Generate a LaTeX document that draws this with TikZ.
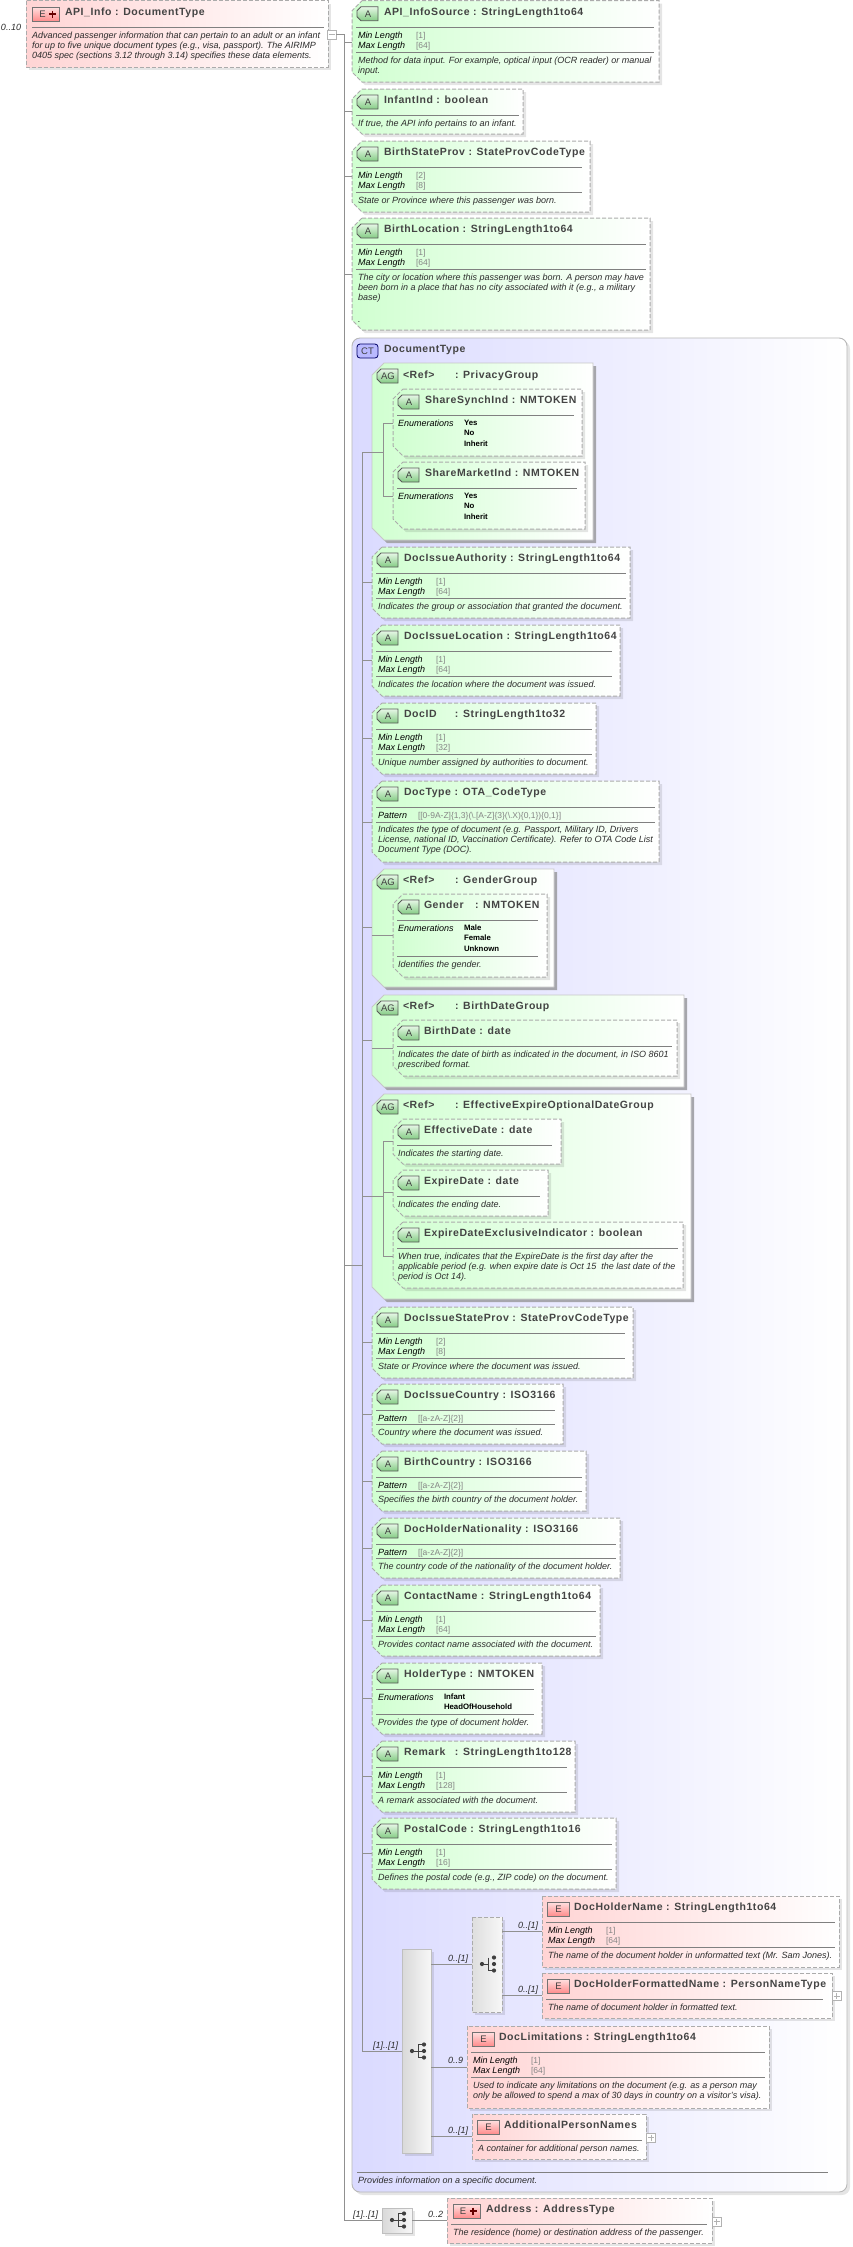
\documentclass[tikz,border=0pt]{standalone}
\usepackage{fontspec}
\setmainfont{Liberation Sans}
\newfontfamily\ttlfont{Liberation Sans}[LetterSpace=5.5]
\usetikzlibrary{calc}
\definecolor{gL}{HTML}{D0FFD0}
\definecolor{pL}{HTML}{FFD4D4}
\definecolor{bL}{HTML}{DADAFF}
\definecolor{dashc}{HTML}{ABABAB}
\definecolor{connc}{HTML}{909090}
\definecolor{ttlc}{HTML}{444444}
\definecolor{dscc}{HTML}{2C2C2C}
\definecolor{valc}{HTML}{858585}
\definecolor{bgA}{HTML}{E6F7E6}
\definecolor{bgB}{HTML}{84CC84}
\newcounter{tn}
\tikzset{
 conn/.style={draw=connc,line width=0.8pt},
 txtbase/.style={anchor=base west,inner sep=0pt,outer sep=0pt},
 ttl/.style={txtbase,font=\ttlfont\bfseries\fontsize{10.5}{12}\selectfont,text=ttlc,yshift=-3.8pt},
 dsc/.style={txtbase,font=\itshape\fontsize{9}{10}\selectfont,text=dscc,yshift=-3.2pt},
 lbl/.style={txtbase,font=\itshape\fontsize{9}{10}\selectfont,text=black,yshift=-3.2pt},
 val/.style={txtbase,font=\fontsize{8.5}{10}\selectfont,text=valc,yshift=-3.2pt},
 enu/.style={txtbase,font=\bfseries\fontsize{7.8}{10}\selectfont,text=black,yshift=-3pt},
 occ/.style={txtbase,font=\itshape\fontsize{9}{10}\selectfont,text=dscc,yshift=-3.2pt},
 dashbox/.style={draw=dashc,line width=1pt,dash pattern=on 4pt off 2pt},
 shad/.style={fill=black,opacity=0.10},
 divl/.style={draw=black!50,line width=0.7pt},
 badgetxt/.style={inner sep=0pt,font=\fontsize{9.5}{10}\selectfont,text=black!75},
 expbox/.style={draw=black!30,fill=white,line width=0.7pt,inner sep=0pt,minimum width=9pt,minimum height=9pt},
 seqbox/.style={left color=black!15,right color=black!3,draw=black!25,line width=0.9pt},
 iconl/.style={draw=black!75,line width=0.9pt},
 icond/.style={fill=black!75},
}
\newcommand\Tx[4]{\stepcounter{tn}\node[#1] (tx\arabic{tn}) at (#2,#3) {#4};}
\newcommand\Dv[3]{\draw[divl] (#1,#3) -- (#2,#3);}
% badges
\newcommand\BadgeA[3]{%
 \draw[top color=bgA,bottom color=bgB,draw=black!65,line width=0.8pt]
  (#1+4,#2) -- (#1+21,#2) -- (#1+21,#2+14) -- (#1+4,#2+14) -- (#1,#2+10) -- (#1,#2+4) -- cycle;
 \stepcounter{tn}\node[badgetxt] (tx\arabic{tn}) at (#1+11,#2+7.5) {#3};}
\newcommand\BadgeE[2]{%
 \draw[top color=red!12,bottom color=red!45,draw=black!55,line width=0.8pt] (#1,#2) rectangle (#1+21.5,#2+14);
 \stepcounter{tn}\node[badgetxt] (tx\arabic{tn}) at (#1+11,#2+7.5) {E};}
\newcommand\BadgeEP[2]{%
 \draw[top color=red!12,bottom color=red!45,draw=black!55,line width=0.8pt] (#1,#2) rectangle (#1+27,#2+14);
 \stepcounter{tn}\node[badgetxt] (tx\arabic{tn}) at (#1+10,#2+7.5) {E};
 \draw[draw=black!60!red,line width=1.8pt] (#1+16.5,#2+7) -- (#1+23.5,#2+7) (#1+20,#2+3.5) -- (#1+20,#2+10.5);}
% boxes
\newcommand\Att[6]{%
 \fill[shad,xshift=3pt,yshift=-3pt] (#2+10,#3) -- (#4,#3) -- (#4,#5) -- (#2+10,#5) -- (#2,#5-10) -- (#2,#3+10) -- cycle;
 \draw[dashbox,left color=gL,right color=white] (#2+10,#3) -- (#4,#3) -- (#4,#5) -- (#2+10,#5) -- (#2,#5-10) -- (#2,#3+10) -- cycle;
 \node[inner sep=0pt,minimum width={(#4-(#2))*1pt},minimum height={(#5-(#3))*1pt}] (#1) at ({(#2+#4)/2},{(#3+#5)/2}) {};
 \coordinate (#1-c) at (#2,#6);
 \BadgeA{#2+5}{#3+6}{A}}
\newcommand\Grp[6]{%
 \fill[fill=black!30!blue!10!black!35,xshift=3pt,yshift=-3pt] (#2+12,#3) -- (#4,#3) -- (#4,#5) -- (#2+12,#5) -- (#2,#5-12) -- (#2,#3+12) -- cycle;
 \draw[draw=black!22,line width=0.8pt,left color=gL,right color=white] (#2+12,#3) -- (#4,#3) -- (#4,#5) -- (#2+12,#5) -- (#2,#5-12) -- (#2,#3+12) -- cycle;
 \node[inner sep=0pt,minimum width={(#4-(#2))*1pt},minimum height={(#5-(#3))*1pt}] (#1) at ({(#2+#4)/2},{(#3+#5)/2}) {};
 \coordinate (#1-c) at (#2,#6);
 \BadgeA{#2+5}{#3+6}{AG}}
\newcommand\Elm[6]{%
 \fill[shad,xshift=3pt,yshift=-3pt] (#2,#3) rectangle (#4,#5);
 \draw[dashbox,left color=pL,right color=white] (#2,#3) rectangle (#4,#5);
 \node[inner sep=0pt,minimum width={(#4-(#2))*1pt},minimum height={(#5-(#3))*1pt}] (#1) at ({(#2+#4)/2},{(#3+#5)/2}) {};
 \coordinate (#1-c) at (#2,#6);}
% standard bodies
\newcommand\Len[9]{%
 \Att{#1}{#2}{#3}{#4}{#3+71}{#3+35}
 \Tx{ttl}{#2+32}{#3+11}{#6}
 \Dv{#2+4}{#5}{#3+26}
 \Tx{lbl}{#2+6}{#3+34}{Min Length}\Tx{val}{#2+64}{#3+34}{[#7]}
 \Tx{lbl}{#2+6}{#3+44}{Max Length}\Tx{val}{#2+64}{#3+44}{[#8]}
 \Dv{#2+4}{#5}{#3+51}
 \Tx{dsc}{#2+6}{#3+59}{#9}}
\newcommand\Pat[7]{%
 \Att{#1}{#2}{#3}{#4}{#3+60}{#3+30}
 \Tx{ttl}{#2+32}{#3+11}{#6}
 \Dv{#2+4}{#5}{#3+26}
 \Tx{lbl}{#2+6}{#3+34}{Pattern}\Tx{val}{#2+46}{#3+34}{[[a-zA-Z]\{2\}]}
 \Dv{#2+4}{#5}{#3+40}
 \Tx{dsc}{#2+6}{#3+48}{#7}}
\newcommand\Ic[2]{% sequence icon
 \draw[iconl] (#1-6,#2) -- (#1+6,#2) (#1,#2-6.5) -- (#1,#2+6.5) (#1,#2-6.5) -- (#1+6,#2-6.5) (#1,#2+6.5) -- (#1+6,#2+6.5);
 \fill[icond] (#1-6,#2) circle (2.1pt) (#1+6,#2) circle (2.1pt) (#1+6,#2-6.5) circle (2.1pt) (#1+6,#2+6.5) circle (2.1pt);}
\newcommand\Ich[2]{% choice icon
 \draw[iconl] (#1-6,#2) -- (#1,#2) (#1,#2-6.5) -- (#1,#2+6.5) -- (#1+6,#2+6.5);
 \fill[icond] (#1-6,#2) circle (2.1pt) (#1+6,#2) circle (2.1pt) (#1+6,#2-6.5) circle (2.1pt) (#1+6,#2+6.5) circle (2.1pt);}
\newcommand\Pl[3]{% expand box
 \node[expbox] (#1) at (#2,#3) {};
 \draw[draw=black!30,line width=0.7pt] (#2-3,#3) -- (#2+3,#3) (#2,#3-3) -- (#2,#3+3);}
\newcommand\Rf[1]{\makebox[52pt][l]{<Ref>}: #1}
\begin{document}
\begin{tikzpicture}[x=1pt,y=-1pt]
\useasboundingbox (0,0) rectangle (852,2247);
\fill[white] (0,0) rectangle (852,2247);
% outer spine coordinates
\coordinate (spO) at (344,34);
\coordinate (spOb) at (344,2220);
\coordinate (spI) at (362,452);
\coordinate (spIb) at (362,2051);
% API_Info
\Elm{api}{26}{0.7}{328}{67}{34}
\BadgeEP{32.5}{7}
\Tx{ttl}{65}{12}{API\_Info : DocumentType}
\Dv{32}{324}{27}
\Tx{dsc}{32}{35}{Advanced passenger information that can pertain to an adult or an infant}
\Tx{dsc}{32}{45}{for up to five unique document types (e.g., visa, passport). The AIRIMP}
\Tx{dsc}{32}{55}{0405 spec (sections 3.12 through 3.14) specifies these data elements.}
\Tx{occ}{1}{27}{0..10}
\node[expbox] (apiminus) at (331.5,34.5) {};
\draw[draw=black!30,line width=0.7pt] (328.5,34.5) -- (334.5,34.5);
% top attributes
\Att{src}{352}{0.7}{659}{82}{42}
\Tx{ttl}{384}{12}{API\_InfoSource : StringLength1to64}
\Dv{356}{654}{27}
\Tx{lbl}{358}{35}{Min Length}\Tx{val}{416}{35}{[1]}
\Tx{lbl}{358}{45}{Max Length}\Tx{val}{416}{45}{[64]}
\Dv{356}{654}{52}
\Tx{dsc}{358}{60}{Method for data input. For example, optical input (OCR reader) or manual}
\Tx{dsc}{358}{70}{input.}
\Att{inf}{352}{89}{523}{134}{111}
\Tx{ttl}{384}{100}{InfantInd : boolean}
\Dv{356}{519}{115}
\Tx{dsc}{358}{123}{If true, the API info pertains to an infant.}
\Len{bsp}{352}{141}{590}{582}{BirthStateProv : StateProvCodeType}{2}{8}{State or Province where this passenger was born.}
\Att{bl}{352}{218}{650}{330}{274}
\Tx{ttl}{384}{229}{BirthLocation : StringLength1to64}
\Dv{356}{646}{244}
\Tx{lbl}{358}{252}{Min Length}\Tx{val}{416}{252}{[1]}
\Tx{lbl}{358}{262}{Max Length}\Tx{val}{416}{262}{[64]}
\Dv{356}{646}{269}
\Tx{dsc}{358}{277}{The city or location where this passenger was born. A person may have}
\Tx{dsc}{358}{287}{been born in a place that has no city associated with it (e.g., a military}
\Tx{dsc}{358}{297}{base)}
\Tx{dsc}{358}{319}{.}
% CT panel
\fill[shad,rounded corners=8pt,xshift=3pt,yshift=-3pt] (352,338) rectangle (847,2192);
\draw[draw=black!28,line width=0.9pt,left color=bL,right color=white,rounded corners=8pt] (352,338) rectangle (847,2192);
\node[inner sep=0pt,minimum width=495pt,minimum height=1854pt] (panel) at (599.5,1265) {};
\coordinate (panel-c) at (352,1265);
\stepcounter{tn}\node[badgetxt,draw=black!60!blue,fill=bL!85!blue,rounded corners=3pt,line width=0.8pt,minimum width=21pt,minimum height=14pt] (ctb) at (367.5,351) {CT};
\Tx{ttl}{384}{349}{DocumentType}
% PrivacyGroup
\Grp{priv}{372}{363}{593}{540}{452}
\Tx{ttl}{403}{375}{\Rf{PrivacyGroup}}
\Att{ssi}{393}{389}{582}{456}{423}
\Tx{ttl}{425}{400}{ShareSynchInd : NMTOKEN}
\Dv{397}{574}{415}
\Tx{lbl}{398}{423}{Enumerations}
\Tx{enu}{464}{422}{Yes}\Tx{enu}{464}{432}{No}\Tx{enu}{464}{443}{Inherit}
\Att{smi}{393}{462}{585}{529}{496}
\Tx{ttl}{425}{473}{ShareMarketInd : NMTOKEN}
\Dv{397}{577}{488}
\Tx{lbl}{398}{496}{Enumerations}
\Tx{enu}{464}{495}{Yes}\Tx{enu}{464}{505}{No}\Tx{enu}{464}{516}{Inherit}
% doc attributes
\Len{dia}{372}{547}{630}{626}{DocIssueAuthority : StringLength1to64}{1}{64}{Indicates the group or association that granted the document.}
\Len{dil}{372}{625}{620}{612}{DocIssueLocation : StringLength1to64}{1}{64}{Indicates the location where the document was issued.}
\Len{did}{372}{703}{596}{592}{\makebox[51pt][l]{DocID}: StringLength1to32}{1}{32}{Unique number assigned by authorities to document.}
\Att{dty}{372}{781}{659}{862}{822}
\Tx{ttl}{404}{792}{DocType : OTA\_CodeType}
\Dv{376}{655}{807}
\Tx{lbl}{378}{815}{Pattern}\Tx{val}{418}{815}{[[0-9A-Z]\{1,3\}(\textbackslash.[A-Z]\{3\}(\textbackslash.X)\{0,1\})\{0,1\}]}
\Dv{376}{655}{822}
\Tx{dsc}{378}{829}{Indicates the type of document (e.g. Passport, Military ID, Drivers}
\Tx{dsc}{378}{839}{License, national ID, Vaccination Certificate). Refer to OTA Code List}
\Tx{dsc}{378}{849}{Document Type (DOC).}
% GenderGroup
\Grp{gg}{372}{869}{554}{987}{927}
\Tx{ttl}{403}{880}{\Rf{GenderGroup}}
\Att{gen}{393}{894}{547}{977}{935}
\Tx{ttl}{424}{905}{\makebox[51pt][l]{Gender}: NMTOKEN}
\Dv{397}{538}{920}
\Tx{lbl}{398}{928}{Enumerations}
\Tx{enu}{464}{927}{Male}\Tx{enu}{464}{937}{Female}\Tx{enu}{464}{948}{Unknown}
\Dv{397}{538}{956}
\Tx{dsc}{398}{964}{Identifies the gender.}
% BirthDateGroup
\Grp{bdg}{372}{995}{684}{1087}{1040}
\Tx{ttl}{403}{1006}{\Rf{BirthDateGroup}}
\Att{bd}{393}{1020}{677}{1076}{1048}
\Tx{ttl}{424}{1031}{BirthDate : date}
\Dv{397}{672}{1046}
\Tx{dsc}{398}{1054}{Indicates the date of birth as indicated in the document, in ISO 8601}
\Tx{dsc}{398}{1064}{prescribed format.}
% EffectiveExpire
\Grp{eeg}{372}{1094}{691}{1299}{1196}
\Tx{ttl}{403}{1105}{\Rf{EffectiveExpireOptionalDateGroup}}
\Att{eff}{393}{1119}{561}{1164}{1141}
\Tx{ttl}{424}{1130}{EffectiveDate : date}
\Dv{397}{552}{1145}
\Tx{dsc}{398}{1153}{Indicates the starting date.}
\Att{exp}{393}{1170}{548}{1216}{1192}
\Tx{ttl}{424}{1181}{ExpireDate : date}
\Dv{397}{540}{1196}
\Tx{dsc}{398}{1204}{Indicates the ending date.}
\Att{exi}{393}{1222}{683}{1288}{1256}
\Tx{ttl}{424}{1233}{ExpireDateExclusiveIndicator : boolean}
\Dv{397}{678}{1248}
\Tx{dsc}{398}{1256}{When true, indicates that the ExpireDate is the first day after the}
\Tx{dsc}{398}{1266}{applicable period (e.g. when expire date is Oct 15\ \ the last date of the}
\Tx{dsc}{398}{1276}{period is Oct 14).}
% rest
\Len{dsp}{372}{1307}{633}{625}{DocIssueStateProv : StateProvCodeType}{2}{8}{State or Province where the document was issued.}
\Pat{dic}{372}{1384}{563}{555}{DocIssueCountry : ISO3166}{Country where the document was issued.}
\Pat{bc}{372}{1451}{586}{582}{BirthCountry : ISO3166}{Specifies the birth country of the document holder.}
\Pat{dhn}{372}{1518}{620}{616}{DocHolderNationality : ISO3166}{The country code of the nationality of the document holder.}
\Len{cn}{372}{1585}{600}{596}{ContactName : StringLength1to64}{1}{64}{Provides contact name associated with the document.}
\Att{ht}{372}{1663}{542}{1734}{1698}
\Tx{ttl}{404}{1674}{HolderType : NMTOKEN}
\Dv{376}{534}{1689}
\Tx{lbl}{378}{1697}{Enumerations}
\Tx{enu}{444}{1696}{Infant}\Tx{enu}{444}{1706}{HeadOfHousehold}
\Dv{376}{534}{1714}
\Tx{dsc}{378}{1722}{Provides the type of document holder.}
\Len{rm}{372}{1741}{575}{567}{\makebox[51pt][l]{Remark}: StringLength1to128}{1}{128}{A remark associated with the document.}
\Len{pc}{372}{1818}{616}{612}{PostalCode : StringLength1to16}{1}{16}{Defines the postal code (e.g., ZIP code) on the document.}
% sequence + choice
\fill[shad,xshift=3pt,yshift=-3pt] (402,1949) rectangle (431,2153);
\draw[seqbox] (402,1949) rectangle (431,2153);
\node[inner sep=0pt,minimum width=29pt,minimum height=204pt] (seq) at (416.5,2051) {};
\Ic{418}{2051}
\fill[shad,xshift=3pt,yshift=-3pt] (472,1917) rectangle (502,2012);
\draw[dashbox,left color=black!13,right color=black!3] (472,1917) rectangle (502,2012);
\node[inner sep=0pt,minimum width=30pt,minimum height=95pt] (cho) at (487,1964.5) {};
\Ich{488}{1964}
% elements
\Elm{dhname}{542}{1896}{839}{1967}{1931}
\BadgeE{547.5}{1902}
\Tx{ttl}{574}{1907}{DocHolderName : StringLength1to64}
\Dv{546}{835}{1922}
\Tx{lbl}{548}{1930}{Min Length}\Tx{val}{606}{1930}{[1]}
\Tx{lbl}{548}{1940}{Max Length}\Tx{val}{606}{1940}{[64]}
\Dv{546}{835}{1947}
\Tx{dsc}{548}{1955}{The name of the document holder in unformatted text (Mr. Sam Jones).}
\Elm{dhf}{542}{1973}{832}{2018}{1995}
\BadgeE{547.5}{1979}
\Tx{ttl}{574}{1984}{DocHolderFormattedName : PersonNameType}
\Dv{546}{823}{1999}
\Tx{dsc}{548}{2007}{The name of document holder in formatted text.}
\Pl{dhfp}{836.5}{1996}
\Elm{dlim}{467}{2026}{769}{2108}{2067}
\BadgeE{472.5}{2032}
\Tx{ttl}{499}{2037}{DocLimitations : StringLength1to64}
\Dv{471}{765}{2052}
\Tx{lbl}{473}{2060}{Min Length}\Tx{val}{531}{2060}{[1]}
\Tx{lbl}{473}{2070}{Max Length}\Tx{val}{531}{2070}{[64]}
\Dv{471}{765}{2077}
\Tx{dsc}{473}{2085}{Used to indicate any limitations on the document (e.g. as a person may}
\Tx{dsc}{473}{2095}{only be allowed to spend a max of 30 days in country on a visitor's visa).}
\Elm{apn}{472}{2114}{646}{2159}{2136}
\BadgeE{477.5}{2120}
\Tx{ttl}{504}{2125}{AdditionalPersonNames}
\Dv{476}{642}{2140}
\Tx{dsc}{478}{2148}{A container for additional person names.}
\Pl{apnp}{651}{2137.5}
\Dv{357}{828}{2172}
\Tx{dsc}{358}{2180}{Provides information on a specific document.}
% address
\fill[shad,xshift=3pt,yshift=-3pt] (382,2208) rectangle (412,2233);
\draw[seqbox] (382,2208) rectangle (412,2233);
\node[inner sep=0pt,minimum width=30pt,minimum height=25pt] (seqa) at (397,2220.5) {};
\Ic{398}{2220}
\Elm{addr}{447}{2198}{712}{2243}{2220}
\BadgeEP{453}{2204}
\Tx{ttl}{486}{2209}{Address : AddressType}
\Dv{451}{707}{2224}
\Tx{dsc}{453}{2232}{The residence (home) or destination address of the passenger.}
\Pl{addrp}{716.5}{2221.5}
% connectors
\draw[conn] (apiminus.east) -- (apiminus.east -| spO) -- (spOb) -- (seqa.west |- spOb);
\foreach \b in {src,inf,bsp,bl,panel} \draw[conn] (\b-c -| spO) -- (\b-c);
\draw[conn] (spI) -- (spIb) -- (seq.west |- spIb);
\draw[conn] (panel-c -| spI) -- (panel-c);
\foreach \b in {priv,dia,dil,did,dty,gg,bdg,eeg,dsp,dic,bc,dhn,cn,ht,rm,pc} \draw[conn] (\b-c -| spI) -- (\b-c);
% sub spines in groups
\coordinate (subP) at (383,452);
\draw[conn] (priv-c) -- (subP);
\draw[conn] (ssi-c) -- (ssi-c -| subP) -- (smi-c -| subP) -- (smi-c);
\draw[conn] (gg.west |- gen-c) -- (gen-c);
\draw[conn] (bdg.west |- bd-c) -- (bd-c);
\coordinate (subE) at (383,1196);
\draw[conn] (eeg-c) -- (subE);
\draw[conn] (eff-c) -- (eff-c -| subE) -- (exi-c -| subE) -- (exi-c);
\draw[conn] (exp-c) -- (exp-c -| subE);
% sequence branches
\coordinate (c1) at (431,1964);
\draw[conn] (c1) -- (cho.west |- c1);
\draw[conn] (seq.east |- dlim-c) -- (dlim-c);
\draw[conn] (seq.east |- apn-c) -- (apn-c);
\draw[conn] (cho.east |- dhname-c) -- (dhname-c);
\draw[conn] (cho.east |- dhf-c) -- (dhf-c);
\draw[conn] (seqa.east |- addr-c) -- (addr-c);
% occurrence labels
\Tx{occ}{373}{2045}{[1]..[1]}
\Tx{occ}{448}{1958}{0..[1]}
\Tx{occ}{448}{2060}{0..9}
\Tx{occ}{448}{2130}{0..[1]}
\Tx{occ}{518}{1925}{0..[1]}
\Tx{occ}{518}{1989}{0..[1]}
\Tx{occ}{353}{2214}{[1]..[1]}
\Tx{occ}{428}{2214}{0..2}
\end{tikzpicture}
\end{document}
